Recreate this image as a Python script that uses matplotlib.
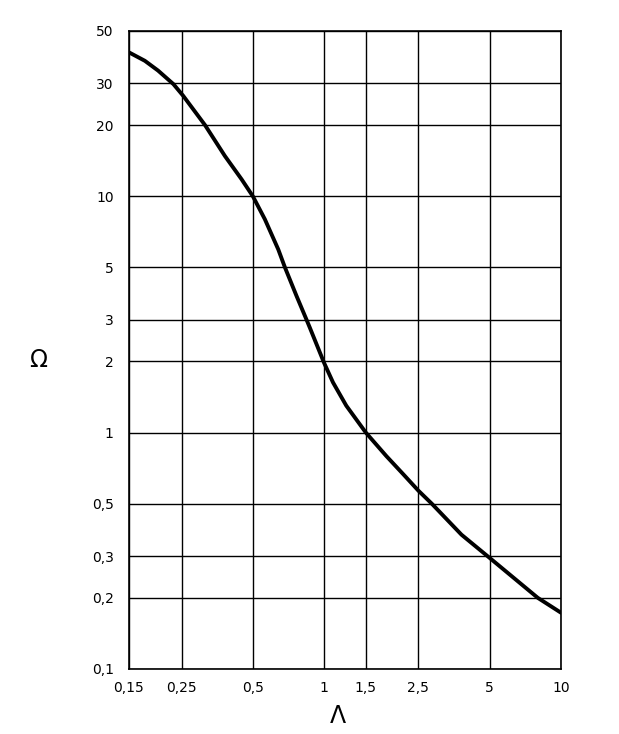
import matplotlib
matplotlib.use("Agg")
import matplotlib.pyplot as plt
from matplotlib.ticker import FixedLocator, FixedFormatter, NullLocator

# Data (log-log)
lam = [0.15, 0.175, 0.199, 0.231, 0.254, 0.314, 0.381, 0.448, 0.5, 0.562, 0.64, 0.683,
       0.765, 0.843, 0.87, 1.0, 1.09, 1.24, 1.5, 1.83, 2.16, 2.5, 2.85, 3.8, 5.0, 7.98, 10.0]
omega = [40.6, 37.4, 34.0, 29.8, 26.6, 20.0, 14.8, 11.8, 10.0, 7.99, 5.96, 5.0,
         3.78, 3.0, 2.78, 1.97, 1.63, 1.30, 1.0, 0.796, 0.666, 0.568, 0.5, 0.37, 0.295, 0.2, 0.173]

x_ticks = [0.15, 0.25, 0.5, 1, 1.5, 2.5, 5, 10]
x_labels = ["0,15", "0,25", "0,5", "1", "1,5", "2,5", "5", "10"]
y_ticks = [0.1, 0.2, 0.3, 0.5, 1, 2, 3, 5, 10, 20, 30, 50]
y_labels = ["0,1", "0,2", "0,3", "0,5", "1", "2", "3", "5", "10", "20", "30", "50"]

fig = plt.figure(figsize=(6.19, 7.34), dpi=100)
ax = fig.add_axes([129/619, 1 - 669/734, (561 - 129)/619, (669 - 31)/734])

ax.set_xscale("log")
ax.set_yscale("log")
ax.set_xlim(0.15, 10)
ax.set_ylim(0.1, 50)

ax.xaxis.set_major_locator(FixedLocator(x_ticks))
ax.xaxis.set_major_formatter(FixedFormatter(x_labels))
ax.xaxis.set_minor_locator(NullLocator())
ax.yaxis.set_major_locator(FixedLocator(y_ticks))
ax.yaxis.set_major_formatter(FixedFormatter(y_labels))
ax.yaxis.set_minor_locator(NullLocator())

ax.grid(True, which="major", color="black", linewidth=1.0)
ax.tick_params(axis="both", length=0, labelsize=10)
ax.tick_params(axis="x", pad=9)
ax.tick_params(axis="y", pad=11)
for s in ax.spines.values():
    s.set_linewidth(1.2)
    s.set_color("black")

ax.plot(lam, omega, color="black", linewidth=2.8, solid_capstyle="round",
        solid_joinstyle="round", zorder=3)

fig.text(38/619, 1 - 360/734, "Ω", fontsize=17, ha="center", va="center")
fig.text(338/619, 1 - 716/734, "Λ", fontsize=17, ha="center", va="center")

fig.savefig("out.png", dpi=100)
